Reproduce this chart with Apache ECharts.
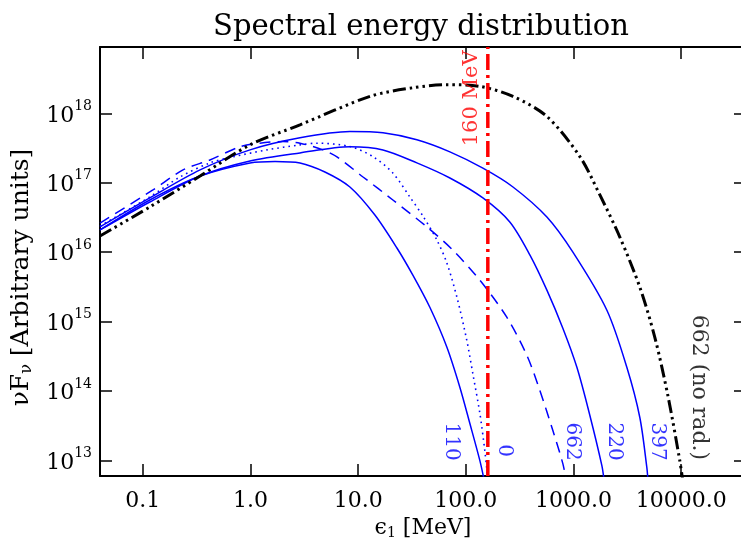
<!DOCTYPE html>
<html>
<head>
<meta charset="utf-8">
<script src="https://cdn.jsdelivr.net/npm/echarts@6/dist/echarts.min.js"></script>
<style>html,body{margin:0;padding:0;background:#fff;}#c{width:741px;height:540px;}</style>
</head>
<body>
<div id="c"></div>
<script>
// ---- data (energy in MeV, nuF_nu arbitrary units) ----
const E_noRad = [0.04, 0.116, 0.34, 0.99, 2.88, 12.9, 32.2, 66.7, 135, 274, 566, 1146, 1758, 2693, 4130, 5690, 7520, 9705, 10350];
const F_noRad = [1.71e16, 4.48e16, 1.25e17, 3.51e17, 6.82e17, 1.75e18, 2.33e18, 2.58e18, 2.44e18, 1.75e18, 9.0e17, 2.38e17, 6.67e16, 1.65e16, 3.13e15, 5.96e14, 8.67e13, 1.0e13, 5.1e12];

const E_662 = [0.04, 0.124, 0.236, 0.42, 0.798, 1.22, 2.0, 2.88, 4.71, 6.35, 11.1, 21.0, 43.5, 75.8, 135, 240, 369, 487, 643, 796, 849];
const F_662 = [2.63e16, 7.87e16, 1.53e17, 2.13e17, 3.29e17, 3.71e17, 3.92e17, 3.71e17, 2.97e17, 2.36e17, 1.21e17, 5.65e16, 2.31e16, 1.07e16, 3.95e15, 1.16e15, 3.27e14, 1.02e14, 2.71e13, 9.05e12, 5.5e12];

const E_0 = [0.04, 0.116, 0.221, 0.42, 0.687, 1.42, 2.88, 4.14, 8.38, 13.7, 21.0, 30.2, 39.9, 53.8, 66.7, 82.6, 102, 116, 135, 150, 160];
const F_0 = [2.38e16, 6.24e16, 1.21e17, 1.93e17, 2.36e17, 2.97e17, 3.51e17, 3.71e17, 3.32e17, 2.38e17, 1.38e17, 6.24e16, 3.32e16, 1.5e16, 6.96e15, 2.25e15, 5.4e14, 1.8e14, 4.77e13, 1.39e13, 5.5e12];

const E_110 = [0.04, 0.116, 0.34, 0.989, 1.69, 2.88, 4.91, 8.38, 14.3, 22.9, 32.2, 46.3, 66.7, 88.1, 109, 135, 147];
const F_110 = [2.09e16, 5.65e16, 1.25e17, 1.93e17, 2.03e17, 1.93e17, 1.43e17, 8.69e16, 3.43e16, 1.15e16, 4.68e15, 1.61e15, 4.28e14, 1.13e14, 3.42e13, 1.0e13, 5.5e12];

const E_220 = [0.04, 0.116, 0.34, 0.989, 2.88, 8.38, 17.0, 35.1, 71.1, 144, 256, 394, 566, 796, 1075, 1419, 1834, 1914];
const F_220 = [2.09e16, 5.28e16, 1.25e17, 2.06e17, 2.69e17, 3.29e17, 2.97e17, 1.93e17, 1.17e17, 6.04e16, 2.72e16, 9.08e15, 2.84e15, 8.04e14, 2.2e14, 4.46e13, 8.47e12, 5.5e12];

const E_397 = [0.04, 0.116, 0.34, 0.989, 2.88, 8.38, 17.0, 35.1, 71.1, 144, 274, 566, 987, 2042, 3128, 4130, 4800, 4900];
const F_397 = [2.31e16, 6.04e16, 1.53e17, 2.97e17, 4.43e17, 5.46e17, 5.24e17, 4.15e17, 2.78e17, 1.62e17, 8.69e16, 3.21e16, 1.0e16, 1.46e15, 2.2e14, 4.17e13, 7.92e12, 5.5e12];

const cutoffEnergy = 160;            // MeV, vertical red line
const xTickValues = [0.1, 1, 10, 100, 1000, 10000];
const yTickExponents = [13, 14, 15, 16, 17, 18];

const xMin = 0.04, xMax = 40000, yMin = 6e12, yMax = 9e18;

const pairs = (xs, ys) => xs.map((x, i) => [x, ys[i]]);
const SERIF = '"DejaVu Serif", "Liberation Serif", serif';
const BLUE = '#0000ff';

const chart = echarts.init(document.getElementById('c'), null, {renderer: 'canvas'});

function lineSeries(name, xs, ys, color, width, dash) {
  return {
    name, type: 'line', data: pairs(xs, ys), xAxisIndex: 0, yAxisIndex: 0,
    showSymbol: false, symbol: 'none', smooth: 0.3, clip: true,
    lineStyle: {color, width, type: dash || 'solid', cap: 'butt'}, silent: true, z: 3
  };
}

function note(text, x, y, color, rotate, size) {
  return {
    type: 'scatter', data: [[x, y]], symbolSize: 0, silent: true, z: 10,
    xAxisIndex: 0, yAxisIndex: 0,
    label: {show: true, position: 'inside', formatter: text, rotate, color,
            fontFamily: SERIF, fontSize: size || 20}
  };
}

const option = {
  animation: false,
  backgroundColor: '#ffffff',
  title: {
    text: 'Spectral energy distribution',
    left: 416, top: 8, textAlign: 'center',
    textStyle: {fontFamily: SERIF, fontSize: 29, fontWeight: 'normal', color: '#000'}
  },
  grid: {left: 100, top: 47, width: 646, height: 429, containLabel: false, outerBoundsMode: 'none'},
  xAxis: [
    {
      type: 'log', min: xMin, max: xMax, logBase: 10, position: 'bottom',
      name: '{a|ϵ}{sub|1}{a| [MeV]}', nameLocation: 'middle', nameGap: 38,
      nameTextStyle: {rich: {
        a: {fontFamily: SERIF, fontSize: 22, color: '#000'},
        sub: {fontFamily: SERIF, fontSize: 14, color: '#000', padding: [10, 0, 0, 0]}
      }},
      axisLine: {show: true, lineStyle: {color: '#000', width: 2}},
      axisTick: {show: true, inside: true, length: 12, lineStyle: {color: '#000', width: 1.5}},
      minorTick: {show: false},
      splitLine: {show: false},
      axisLabel: {
        showMinLabel: false, showMaxLabel: false, margin: 14,
        fontFamily: SERIF, fontSize: 22, color: '#000',
        formatter: v => {
          const hit = xTickValues.find(t => Math.abs(Math.log10(v) - Math.log10(t)) < 1e-6);
          return hit !== undefined ? hit.toFixed(1) : '';
        }
      }
    },
    {
      type: 'log', min: xMin, max: xMax, logBase: 10, position: 'top',
      axisLine: {show: true, lineStyle: {color: '#000', width: 2}},
      axisTick: {show: true, inside: true, length: 12, lineStyle: {color: '#000', width: 1.5}},
      axisLabel: {show: false}, splitLine: {show: false}
    }
  ],
  yAxis: [
    {
      type: 'log', min: yMin, max: yMax, logBase: 10, position: 'left',
      name: '{a|νF}{sub|ν}{a| [Arbitrary units]}', nameLocation: 'middle', nameGap: 62,
      nameTextStyle: {padding: [0, 32, 0, 0], rich: {
        a: {fontFamily: SERIF, fontSize: 25, color: '#000'},
        sub: {fontFamily: SERIF, fontSize: 16, color: '#000', padding: [12, 0, 0, 0]}
      }},
      axisLine: {show: true, lineStyle: {color: '#000', width: 2}},
      axisTick: {show: true, inside: true, length: 12, lineStyle: {color: '#000', width: 1.5}},
      splitLine: {show: false},
      axisLabel: {
        showMinLabel: false, showMaxLabel: false, margin: 8,
        formatter: v => {
          const e = Math.round(Math.log10(v));
          if (Math.abs(Math.log10(v) - e) > 1e-6 || yTickExponents.indexOf(e) < 0) return '';
          return '{b|10}{s|' + e + '}';
        },
        rich: {
          b: {fontFamily: SERIF, fontSize: 22, color: '#000', padding: [5, 0, 0, 0]},
          s: {fontFamily: SERIF, fontSize: 14, color: '#000', padding: [0, 0, 14, 0]}
        }
      }
    },
    {
      type: 'log', min: yMin, max: yMax, logBase: 10, position: 'right',
      axisLine: {show: true, lineStyle: {color: '#000', width: 2}},
      axisTick: {show: true, inside: true, length: 12, lineStyle: {color: '#000', width: 1.5}},
      axisLabel: {show: false}, splitLine: {show: false}
    }
  ],
  series: [
    lineSeries('110', E_110, F_110, BLUE, 1.5),
    lineSeries('220', E_220, F_220, BLUE, 1.5),
    lineSeries('397', E_397, F_397, BLUE, 1.5),
    lineSeries('0', E_0, F_0, BLUE, 1.6, [1.6, 4]),
    lineSeries('662', E_662, F_662, BLUE, 1.5, [11, 7]),
    lineSeries('662 (no rad.)', E_noRad, F_noRad, '#000', 3, [13, 4, 2.5, 4, 2.5, 4, 2.5, 4]),
    {
      name: 'cutoff', type: 'line', data: [[cutoffEnergy, yMin], [cutoffEnergy, yMax]],
      showSymbol: false, symbol: 'none', silent: true, z: 4,
      lineStyle: {color: '#ff0000', width: 3.5, type: [16, 5, 3, 5]}
    },
    note('110', 72.6, 1.88e13, BLUE, -90),
    note('0', 225, 1.39e13, BLUE, -90),
    note('662', 966, 1.88e13, BLUE, -90),
    note('220', 2371, 1.88e13, BLUE, -90),
    note('397', 5943, 1.88e13, BLUE, -90),
    note('662 (no rad.)', 14580, 1.13e14, '#000', -90, 22),
    note('160 MeV', 112, 1.64e18, '#ff0000', 90, 21)
  ]
};
chart.setOption(option);
</script>
</body>
</html>
